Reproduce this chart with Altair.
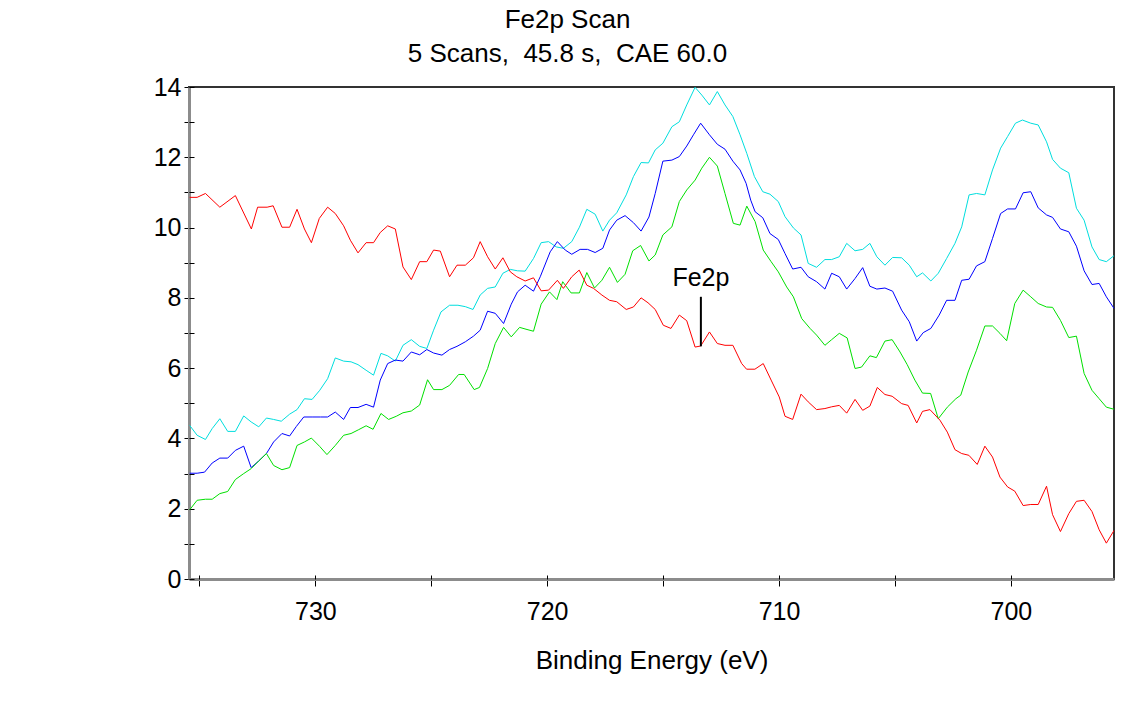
import altair as alt
import pandas as pd

# ---------------- data ----------------
red_be = [735.42, 735.10, 734.74, 734.12, 733.45, 732.76, 732.49, 732.08, 731.82, 731.44,
          731.11, 730.79, 730.47, 730.17, 729.83, 729.47, 729.14, 728.78, 728.49, 728.16,
          727.81, 727.49, 727.20, 726.88, 726.55, 726.22, 725.86, 725.50, 725.19, 724.90,
          724.61, 724.21, 723.89, 723.53, 723.18, 722.89, 722.57, 722.24, 721.91, 721.59,
          721.31, 720.95, 720.59, 720.26, 719.94, 719.56, 719.30, 718.94, 718.62, 718.29,
          718.00, 717.64, 717.31, 717.00, 716.59, 716.28, 715.95, 715.65, 715.34, 714.99,
          714.66, 714.30, 713.98, 713.62, 713.38, 713.00, 712.66, 712.33, 711.99, 711.61,
          711.40, 711.04, 710.68, 710.34, 709.99, 709.74, 709.41, 709.05, 708.74, 708.38,
          708.02, 707.73, 707.40, 707.08, 706.72, 706.39, 706.08, 705.76, 705.43, 705.12,
          704.71, 704.43, 704.06, 703.81, 703.49, 703.06, 702.74, 702.41, 702.12, 701.81,
          701.45, 701.12, 700.79, 700.47, 700.14, 699.83, 699.47, 699.14, 698.82, 698.46,
          698.20, 697.86, 697.50, 697.17, 696.84, 696.50, 696.19, 695.88, 695.55]
red_int = [10.86, 10.86, 10.97, 10.58, 10.91, 9.96, 10.58, 10.58, 10.62, 10.01,
           10.01, 10.52, 9.96, 9.57, 10.26, 10.58, 10.40, 10.05, 9.64, 9.28,
           9.57, 9.57, 9.86, 10.05, 9.96, 8.88, 8.52, 9.03, 9.03, 9.36,
           9.33, 8.60, 8.93, 8.93, 9.14, 9.60, 9.17, 8.82, 9.14, 8.74,
           8.60, 8.48, 8.57, 8.20, 8.22, 8.50, 8.27, 8.60, 8.79, 8.36,
           8.27, 8.08, 7.93, 7.89, 7.67, 7.74, 8.00, 7.86, 7.67, 7.22,
           7.13, 7.51, 7.35, 6.60, 6.63, 7.03, 6.70, 6.65, 6.65, 6.13,
           5.97, 5.97, 6.13, 5.66, 5.18, 4.63, 4.54, 5.26, 5.04, 4.82,
           4.85, 4.90, 4.94, 4.72, 5.11, 4.80, 4.92, 5.45, 5.25, 5.20,
           4.99, 4.94, 4.44, 4.77, 4.82, 4.52, 4.18, 3.68, 3.57, 3.52,
           3.26, 3.78, 3.47, 2.90, 2.62, 2.50, 2.09, 2.12, 2.12, 2.64,
           1.83, 1.35, 1.86, 2.21, 2.24, 1.92, 1.40, 1.02, 1.38]

blue_be = [735.42, 735.10, 734.78, 734.45, 734.12, 733.78, 733.45, 733.09, 732.77, 732.44,
           732.11, 731.80, 731.44, 731.11, 730.82, 730.50, 730.14, 729.78, 729.47, 729.14,
           728.78, 728.49, 728.16, 727.81, 727.49, 727.20, 726.88, 726.55, 726.22, 725.86,
           725.50, 725.19, 724.90, 724.54, 724.21, 723.89, 723.53, 723.18, 722.89, 722.57,
           722.24, 721.88, 721.55, 721.28, 720.95, 720.59, 720.30, 719.87, 719.56, 719.22,
           718.94, 718.58, 718.26, 717.93, 717.60, 717.31, 717.00, 716.64, 716.28, 715.95,
           715.61, 715.34, 715.01, 714.62, 714.30, 713.98, 713.69, 713.38, 713.00, 712.66,
           712.33, 711.99, 711.68, 711.42, 711.22, 711.03, 710.70, 710.39, 710.03, 709.74,
           709.41, 709.05, 708.74, 708.38, 708.02, 707.73, 707.40, 707.08, 706.72, 706.39,
           706.08, 705.78, 705.43, 705.10, 704.71, 704.38, 704.06, 703.78, 703.45, 703.09,
           702.77, 702.41, 702.12, 701.80, 701.48, 701.12, 700.79, 700.44, 700.14, 699.80,
           699.47, 699.14, 698.82, 698.46, 698.20, 697.86, 697.50, 697.17, 696.84, 696.50,
           696.19, 695.88, 695.55]
blue_int = [3.01, 3.01, 3.04, 3.30, 3.44, 3.44, 3.66, 3.78, 3.17, 3.36,
            3.57, 3.90, 4.14, 4.07, 4.34, 4.61, 4.61, 4.61, 4.61, 4.75,
            4.54, 4.88, 4.88, 4.97, 4.89, 5.66, 6.13, 6.23, 6.20, 6.46,
            6.38, 6.53, 6.43, 6.37, 6.53, 6.62, 6.75, 6.91, 7.08, 7.62,
            7.56, 7.27, 7.82, 8.17, 8.36, 8.19, 8.60, 9.31, 9.60, 9.36,
            9.24, 9.38, 9.38, 9.29, 9.41, 9.93, 10.21, 10.34, 10.14, 9.90,
            10.30, 10.97, 11.89, 11.92, 12.02, 12.32, 12.64, 12.97, 12.64, 12.37,
            12.23, 11.89, 11.64, 11.26, 10.78, 10.45, 10.28, 9.83, 9.66, 9.26,
            8.82, 8.87, 8.60, 8.46, 8.25, 8.70, 8.60, 8.25, 8.55, 8.86,
            8.33, 8.25, 8.28, 8.19, 7.65, 7.32, 6.77, 7.01, 7.13, 7.51,
            7.93, 7.93, 8.50, 8.53, 8.91, 9.03, 9.69, 10.40, 10.53, 10.53,
            10.99, 11.02, 10.56, 10.36, 10.29, 9.96, 9.88, 9.47, 8.77, 8.38,
            8.41, 8.03, 7.70]

cyan_be = [735.42, 735.10, 734.74, 734.45, 734.12, 733.78, 733.45, 733.09, 732.77, 732.44,
           732.11, 731.80, 731.47, 731.11, 730.79, 730.47, 730.14, 729.81, 729.47, 729.14,
           728.78, 728.46, 728.16, 727.81, 727.49, 727.17, 726.88, 726.55, 726.22, 725.86,
           725.50, 725.19, 724.90, 724.58, 724.21, 723.85, 723.53, 723.20, 722.89, 722.57,
           722.24, 721.91, 721.59, 721.28, 720.95, 720.59, 720.26, 719.94, 719.61, 719.30,
           718.94, 718.61, 718.29, 717.93, 717.60, 717.31, 717.00, 716.59, 716.28, 715.95,
           715.63, 715.34, 715.01, 714.62, 714.30, 713.98, 713.62, 713.33, 713.00, 712.66,
           712.33, 711.99, 711.68, 711.39, 711.06, 710.70, 710.39, 710.03, 709.74, 709.38,
           709.05, 708.74, 708.38, 708.02, 707.73, 707.40, 707.08, 706.72, 706.39, 706.08,
           705.78, 705.43, 705.10, 704.71, 704.38, 704.06, 703.81, 703.45, 703.13, 702.77,
           702.41, 702.12, 701.80, 701.48, 701.12, 700.79, 700.44, 700.14, 699.80, 699.50,
           699.14, 698.82, 698.46, 698.20, 697.86, 697.50, 697.17, 696.84, 696.50, 696.19,
           695.88, 695.55]
cyan_int = [4.37, 4.09, 3.97, 4.28, 4.56, 4.20, 4.20, 4.64, 4.47, 4.33,
            4.58, 4.54, 4.49, 4.69, 4.82, 5.13, 5.11, 5.37, 5.70, 6.29,
            6.20, 6.18, 6.10, 5.94, 5.80, 6.42, 6.35, 6.20, 6.65, 6.81,
            6.62, 6.56, 7.08, 7.60, 7.79, 7.79, 7.75, 7.67, 8.08, 8.27,
            8.31, 8.70, 8.81, 8.77, 8.76, 9.12, 9.57, 9.60, 9.45, 9.41,
            9.60, 10.01, 10.52, 10.38, 9.90, 10.21, 10.42, 10.93, 11.45, 11.85,
            11.84, 12.21, 12.40, 12.87, 13.01, 13.49, 13.99, 13.77, 13.49, 13.87,
            13.49, 13.16, 12.64, 12.11, 11.45, 11.02, 10.95, 10.74, 10.31, 9.99,
            9.79, 8.98, 8.87, 9.09, 9.09, 9.17, 9.55, 9.34, 9.38, 9.55,
            9.17, 8.93, 9.15, 9.14, 8.93, 8.60, 8.71, 8.48, 8.70, 9.12,
            9.55, 10.02, 10.93, 10.97, 10.93, 11.64, 12.26, 12.59, 12.97, 13.06,
            12.97, 12.92, 12.44, 11.94, 11.69, 11.56, 10.55, 10.21, 9.45, 9.09,
            9.03, 9.20]

green_be = [735.42, 735.10, 734.74, 734.45, 734.12, 733.78, 733.45, 733.09, 732.77, 732.44,
            732.11, 731.80, 731.44, 731.11, 730.79, 730.47, 730.17, 729.81, 729.50, 729.14,
            728.78, 728.46, 728.13, 727.81, 727.51, 727.17, 726.84, 726.51, 726.22, 725.86,
            725.50, 725.16, 724.90, 724.54, 724.21, 723.82, 723.58, 723.15, 722.92, 722.57,
            722.24, 721.88, 721.55, 721.19, 720.87, 720.59, 720.26, 719.90, 719.58, 719.33,
            718.97, 718.61, 718.29, 717.96, 717.64, 717.31, 716.97, 716.64, 716.31, 715.97,
            715.61, 715.34, 715.01, 714.62, 714.30, 713.98, 713.62, 713.33, 713.00, 712.66,
            712.33, 711.97, 711.68, 711.39, 711.03, 710.68, 710.34, 710.03, 709.67, 709.38,
            709.02, 708.66, 708.38, 708.02, 707.73, 707.40, 707.06, 706.72, 706.44, 706.08,
            705.80, 705.43, 705.12, 704.78, 704.47, 704.14, 703.81, 703.46, 703.13, 702.74,
            702.37, 702.16, 701.84, 701.48, 701.12, 700.79, 700.47, 700.18, 699.83, 699.47,
            699.14, 698.82, 698.46, 698.20, 697.86, 697.50, 697.17, 696.84, 696.50, 696.19,
            695.88, 695.55]
green_int = [1.97, 2.24, 2.27, 2.27, 2.43, 2.49, 2.83, 3.00, 3.14, 3.36,
             3.57, 3.23, 3.11, 3.17, 3.80, 3.90, 4.01, 3.77, 3.54, 3.80,
             4.09, 4.14, 4.25, 4.36, 4.26, 4.71, 4.54, 4.63, 4.73, 4.78,
             4.95, 5.67, 5.39, 5.39, 5.51, 5.82, 5.82, 5.39, 5.45, 5.99,
             6.70, 7.16, 6.89, 7.16, 7.10, 7.05, 7.82, 8.17, 7.95, 8.46,
             8.14, 8.14, 8.72, 8.28, 8.50, 8.87, 8.44, 8.67, 9.34, 9.49,
             9.05, 9.22, 9.79, 10.02, 10.74, 11.07, 11.35, 11.69, 12.00, 11.75,
             10.97, 10.12, 10.07, 10.61, 10.17, 9.36, 9.03, 8.74, 8.31, 8.03,
             7.41, 7.13, 6.94, 6.65, 6.81, 6.99, 6.86, 5.99, 6.03, 6.35,
             6.30, 6.77, 6.81, 6.46, 6.10, 5.66, 5.29, 5.28, 4.56, 4.89,
             5.13, 5.23, 5.89, 6.51, 7.20, 7.20, 6.99, 6.78, 7.84, 8.22,
             8.03, 7.84, 7.74, 7.73, 7.36, 6.87, 6.91, 5.85, 5.37, 5.13,
             4.89, 4.83]

series_names = ["cyan", "blue", "green", "red"]
series_colors = ["#00dede", "#0000ff", "#00e000", "#ff0000"]

x_ticks = [735, 730, 725, 720, 715, 710, 705, 700]
y_ticks = list(range(0, 15))

title_lines = ["Fe2p Scan", "5 Scans,\u00a0\u00a045.8 s,\u00a0\u00a0CAE 60.0"]
x_title = "Binding Energy (eV)"

peak_label = "Fe2p"
peak_be = 713.37
peak_low = 6.62
peak_high = 8.03
peak_text_y = 8.34

# ---------------- build table ----------------
rows = []
for name, be, inten in [("cyan", cyan_be, cyan_int), ("blue", blue_be, blue_int),
                        ("green", green_be, green_int), ("red", red_be, red_int)]:
    for i, (e, v) in enumerate(zip(be, inten)):
        rows.append({"be": e, "intensity": v, "series": name, "idx": i})
df = pd.DataFrame(rows)

ann = pd.DataFrame([{"be": peak_be, "lo": peak_low, "hi": peak_high,
                     "ty": peak_text_y, "label": peak_label}])

FONT = "Liberation Sans"
FS = 25
FS_T = 26

xscale = alt.Scale(domain=[695.55, 735.45], reverse=True, nice=False, zero=False)
yscale = alt.Scale(domain=[0, 14], nice=False, zero=False)

x_axis_main = alt.Axis(
    orient="bottom", values=x_ticks,
    labelExpr="datum.value % 10 == 0 ? datum.label : ''",
    labelOverlap=False, labelFlush=False,
    tickSize=7, tickColor="black", tickWidth=1,
    domainColor="#8c8c8c", domainWidth=3,
    labelFont=FONT, labelFontSize=FS, labelColor="black", labelPadding=13,
    title=x_title, titleFont=FONT, titleFontSize=FS_T, titleFontWeight="normal",
    titleColor="black", titleY=89, titleBaseline="alphabetic",
    grid=False)
y_axis_main = alt.Axis(
    orient="left", values=y_ticks,
    labelExpr="datum.value % 2 == 0 ? datum.label : ''",
    labelOverlap=False, labelFlush=False,
    tickSize=5, tickColor="black", tickWidth=1,
    domainColor="#8c8c8c", domainWidth=3,
    labelFont=FONT, labelFontSize=FS, labelColor="black", labelPadding=3,
    title=None, grid=False)

x_axis_inner = alt.Axis(orient="bottom", values=x_ticks, labels=False, domain=False,
                        tickSize=4, offset=-4, tickColor="black", tickWidth=1,
                        title=None, grid=False)
y_axis_inner = alt.Axis(orient="left", values=y_ticks, labels=False, domain=False,
                        tickSize=5, offset=-5, tickColor="black", tickWidth=1,
                        title=None, grid=False)

lines = alt.Chart(df).mark_line(strokeWidth=1).encode(
    x=alt.X("be:Q", scale=xscale, axis=x_axis_main),
    y=alt.Y("intensity:Q", scale=yscale, axis=y_axis_main),
    color=alt.Color("series:N", scale=alt.Scale(domain=series_names, range=series_colors),
                    legend=None),
    order=alt.Order("idx:Q"),
)

rule = alt.Chart(ann).mark_rule(color="black", strokeWidth=2).encode(
    x=alt.X("be:Q", scale=xscale, axis=x_axis_inner),
    y=alt.Y("lo:Q", scale=yscale, axis=y_axis_inner),
    y2="hi:Q",
)

label = alt.Chart(ann).mark_text(font=FONT, fontSize=FS, color="black",
                                 align="center", baseline="alphabetic").encode(
    x=alt.X("be:Q", scale=xscale, axis=None),
    y=alt.Y("ty:Q", scale=yscale, axis=None),
    text="label:N",
)

chart = alt.layer(lines, rule, label).resolve_axis(
    x="independent", y="independent"
).properties(
    width=925, height=492,
    autosize=alt.AutoSizeParams(type="none"),
    padding={"left": 181, "top": 79, "right": 10, "bottom": 110},
    title=alt.TitleParams(text=title_lines, font=FONT, fontSize=FS_T, fontWeight="normal",
                          color="black", anchor="middle", frame="group", dx=-84,
                          offset=8, lineHeight=34),
).configure_view(stroke="#333333", strokeWidth=2)

chart.save("out.html", embed_options={"renderer": "svg", "actions": False})
